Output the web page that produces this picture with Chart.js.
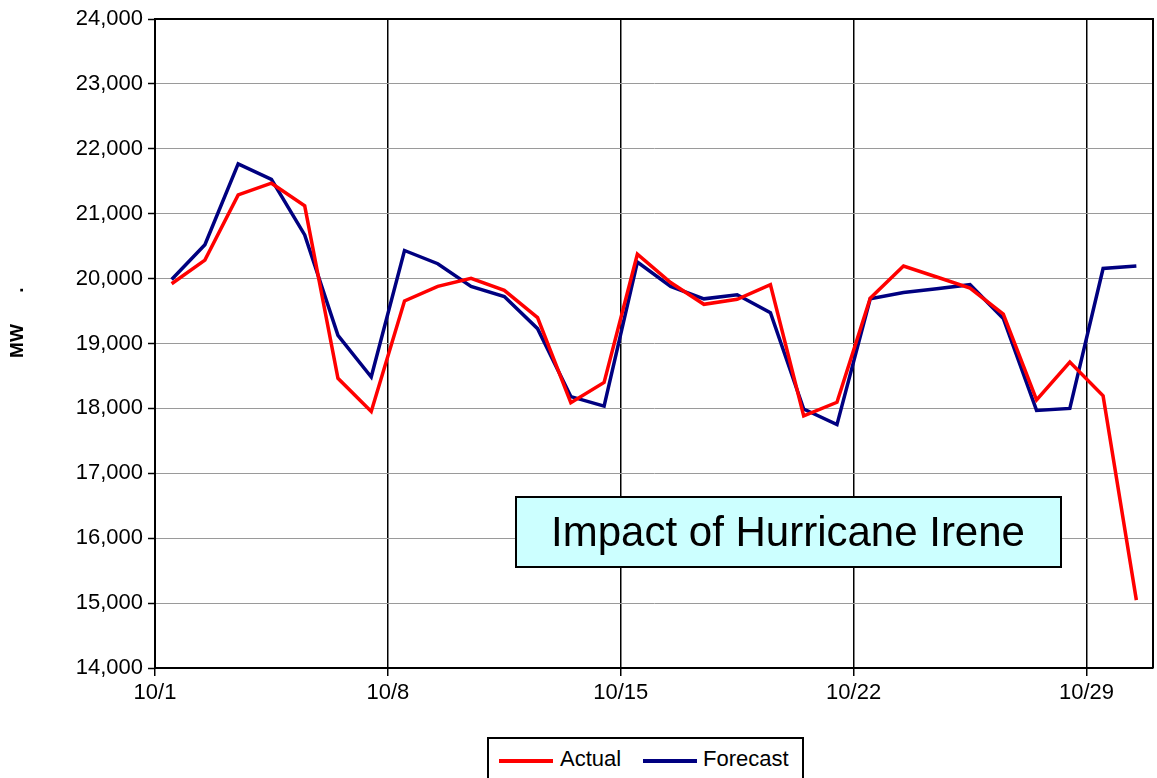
<!DOCTYPE html>
<html>
<head>
<meta charset="utf-8">
<script src="https://cdn.jsdelivr.net/npm/chart.js@4/dist/chart.umd.min.js"></script>
<style>
  body { margin: 0; background: #fff; font-family: Arial, "Liberation Sans", sans-serif; }
  #wrap { position: relative; width: 1157px; height: 778px; }
  #legend {
    position: absolute; left: 487px; top: 737px; width: 313px; height: 45px;
    border: 2px solid #000; background: #fff; font-size: 22px;
  }
  .item { position: absolute; top: 7px; }
  .swatch { position: absolute; top: 20px; height: 4px; width: 54px; }
</style>
</head>
<body>
<div id="wrap">
  <canvas id="IreneChart" width="1157" height="778"></canvas>
  <div id="legend">
    <div class="swatch" style="left:10px;background:#ff0000"></div>
    <div class="item" style="left:71px">Actual</div>
    <div class="swatch" style="left:154px;background:#000080"></div>
    <div class="item" style="left:214px">Forecast</div>
  </div>
</div>
<script>
// October days, one point per day
var days = [1, 2, 3, 4, 5, 6, 7, 8, 9, 10, 11, 12, 13, 14, 15,
            16, 17, 18, 19, 20, 21, 22, 23, 24, 25, 26, 27, 28, 29, 30];

var actual = [19920, 20285, 21290, 21470, 21120, 18464, 17953, 19656, 19880, 20005,
              19818, 19400, 18088, 18400, 20375, 19940, 19604, 19682, 19906, 17885,
              18094, 19698, 20193, 20025, 19854, 19453, 18130, 18713, 18193, 15046];

var forecast = [19985, 20523, 21767, 21530, 20673, 19125, 18484, 20433, 20229, 19880,
                19724, 19229, 18182, 18036, 20255, 19880, 19688, 19750, 19474, 17990,
                17750, 19688, 19786, 19845, 19906, 19385, 17969, 18000, 20156, 20193];

var xTickDays = [1, 8, 15, 22, 29];
var xTickLabels = ['10/1', '10/8', '10/15', '10/22', '10/29'];

var yMin = 14000, yMax = 24000, yStep = 1000;

// points sit in the middle of each day
function toPoints(vals) {
    return vals.map(function (v, i) { return { x: days[i] - 0.5, y: v }; });
}

var fontFamily = 'Arial, "Liberation Sans", sans-serif';

/* border on top and right, axis title, text box */
var extras = {
    id: 'extras',
    beforeDatasetsDraw: function (chart) {
        var a = chart.chartArea, c = chart.ctx;
        c.save();
        c.strokeStyle = '#000';
        c.lineWidth = 2;
        c.beginPath();
        c.moveTo(a.left, a.top);
        c.lineTo(a.right, a.top);
        c.lineTo(a.right, a.bottom);
        c.stroke();
        // y axis title, "MW" and its stray dot
        c.translate(18, 341);
        c.rotate(-Math.PI / 2);
        c.fillStyle = '#000';
        c.font = 'bold 19px ' + fontFamily;
        c.textAlign = 'center';
        c.textBaseline = 'middle';
        c.fillText('MW', 0, 0);
        c.fillText('.', 51, 0);
        c.restore();
    },
    afterDatasetsDraw: function (chart) {
        var c = chart.ctx;
        c.save();
        c.fillStyle = '#ccffff';
        c.fillRect(516, 497, 545, 70);
        c.strokeStyle = '#000';
        c.lineWidth = 2;
        c.strokeRect(516, 497, 545, 70);
        c.fillStyle = '#000';
        c.font = '42px ' + fontFamily;
        c.textAlign = 'center';
        c.textBaseline = 'middle';
        c.fillText('Impact of Hurricane Irene', 788, 534);
        c.restore();
    }
};

const ctx = document.getElementById('IreneChart');
const IreneChart = new Chart(ctx, {
    type: 'line',
    data: {
        datasets: [{
            label: 'Actual',
            data: toPoints(actual),
            borderColor: '#ff0000',
            borderWidth: 3.5,
            pointRadius: 0,
            tension: 0
        }, {
            label: 'Forecast',
            data: toPoints(forecast),
            borderColor: '#000080',
            borderWidth: 3.5,
            pointRadius: 0,
            tension: 0
        }]
    },
    options: {
        responsive: false,
        animation: false,
        layout: {
            padding: { top: 19, right: 4, left: 0, bottom: 0 }
        },
        plugins: {
            legend: { display: false },
            tooltip: { enabled: false }
        },
        scales: {
            x: {
                type: 'linear',
                min: 0,
                max: 30,
                afterBuildTicks: function (s) {
                    s.ticks = xTickDays.map(function (d) { return { value: d - 1 }; });
                },
                afterFit: function (s) { s.height = 110; },
                ticks: {
                    color: '#000',
                    font: { family: fontFamily, size: 22 },
                    padding: 4,
                    maxRotation: 0,
                    callback: function (v) {
                        return xTickLabels[xTickDays.indexOf(v + 1)];
                    }
                },
                grid: {
                    color: '#000',
                    lineWidth: 1.5,
                    tickLength: 8,
                    tickColor: '#000'
                },
                border: { color: '#000', width: 2 }
            },
            y: {
                min: yMin,
                max: yMax,
                afterFit: function (s) { s.width = 155; },
                ticks: {
                    stepSize: yStep,
                    color: '#000',
                    font: { family: fontFamily, size: 22 },
                    padding: 5,
                    callback: function (v) { return v.toLocaleString('en-US'); }
                },
                grid: {
                    color: '#9a9a9a',
                    lineWidth: 1,
                    borderDash: [1, 1],
                    tickLength: 7,
                    tickColor: '#000',
                    tickWidth: 1.5,
                    tickBorderDash: []
                },
                border: { color: '#000', width: 2 }
            }
        }
    },
    plugins: [extras]
});
</script>
</body>
</html>
